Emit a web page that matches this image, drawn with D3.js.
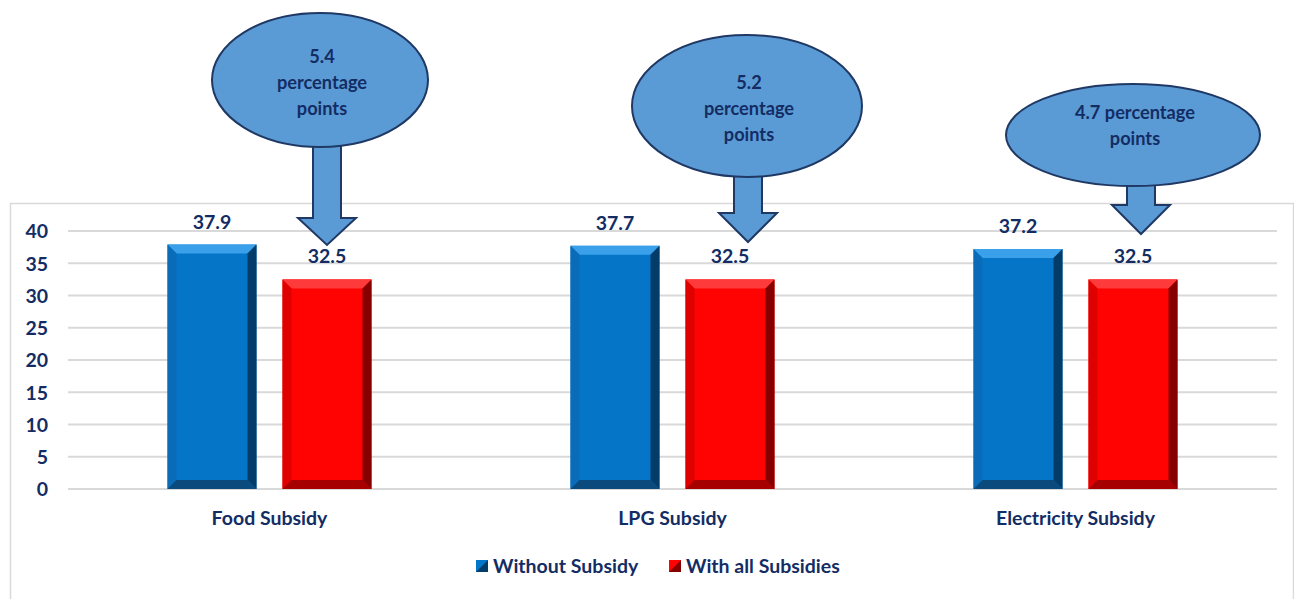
<!DOCTYPE html>
<html>
<head>
<meta charset="utf-8">
<script src="https://cdn.jsdelivr.net/npm/d3@7"></script>
<style>
  body { margin: 0; background: #fff; }
  text { font-family: Lato, "Open Sans", sans-serif; font-weight: bold; fill: #132d64; }
</style>
</head>
<body>
<div id="container"></div>
<script>
/* data */
var categories = ["Food Subsidy", "LPG Subsidy", "Electricity Subsidy"]
var seriesNames = ["Without Subsidy", "With all Subsidies"]
var withoutSubsidy = [37.9, 37.7, 37.2]
var withSubsidies = [32.5, 32.5, 32.5]
var calloutLines = [["5.4", "percentage", "points"],
                    ["5.2", "percentage", "points"],
                    ["4.7 percentage", "points"]]
var yTicks = [0, 5, 10, 15, 20, 25, 30, 35, 40]

/* callout shapes (layout only) */
var calloutLayout = [
  { dx: -7, cy: 80, rx: 108, ry: 67, arrowDx: 0, headY: 218, tipY: 245, textY: 57 },
  { dx: 17, cy: 106, rx: 115, ry: 71, arrowDx: 18, headY: 213, tipY: 242, textY: 83 },
  { dx: 0, cy: 135, rx: 127, ry: 51, arrowDx: 8, headY: 205, tipY: 234, textY: 113 }
]

var width = 1294, height = 599

var svg = d3.select("#container")
            .append("svg")
            .attr("width", width)
            .attr("height", height)

/* chart frame */
svg.append("path")
   .attr("d", "M10.5,599 L10.5,203.5 L1293.5,203.5 L1293.5,599")
   .attr("fill", "none")
   .attr("stroke", "#d9d9d9")
   .attr("stroke-width", 1.5)

var x0 = d3.scaleBand()
           .domain(categories)
           .range([68, 1277])
var x1 = d3.scaleBand()
           .domain(seriesNames)
           .range([99.5, 303.5])
           .paddingInner(0.226)
var y = d3.scaleLinear()
          .domain([0, 40])
          .range([489, 231])

/* gridlines */
svg.append("g").selectAll("line")
   .data(yTicks)
   .enter().append("line")
     .attr("x1", 68).attr("x2", 1277)
     .attr("y1", function(d) { return y(d) })
     .attr("y2", function(d) { return y(d) })
     .attr("stroke", "#d9d9d9")
     .attr("stroke-width", 2)

/* y axis labels */
var yAxis = d3.axisLeft(y).tickValues(yTicks).tickSize(0).tickPadding(0)
var ya = svg.append("g").attr("transform", "translate(48,0)").call(yAxis)
ya.select(".domain").remove()
ya.selectAll("text")
  .attr("font-size", 19.5)
  .attr("font-family", "Lato, sans-serif")
  .attr("dy", "0.35em")

/* bevelled bars */
var palettes = [
  { main: "#0575c8", top: "#3aa0ea", left: "#0a6cb8", right: "#033c69", bottom: "#0b4a7c" },
  { main: "#ff0202", top: "#ff3a3a", left: "#df0000", right: "#860000", bottom: "#a60000" }
]
var bevel = 9

var barData = []
categories.forEach(function(c, i) {
  barData.push({ cat: c, s: seriesNames[0], v: withoutSubsidy[i], p: palettes[0] })
  barData.push({ cat: c, s: seriesNames[1], v: withSubsidies[i], p: palettes[1] })
})

var bars = svg.append("g").selectAll(".bar")
   .data(barData)
   .enter().append("g")
     .attr("class", "bar")

bars.each(function(d) {
  var g = d3.select(this)
  var x = x0(d.cat) + x1(d.s), w = x1.bandwidth()
  var t = y(d.v), b = y(0), b2 = bevel
  g.append("rect").attr("x", x).attr("y", t).attr("width", w).attr("height", b - t).attr("fill", d.p.main)
  var poly = function(pts, fill) {
    g.append("polygon").attr("points", pts.map(function(p) { return p.join(",") }).join(" ")).attr("fill", fill)
  }
  poly([[x, t], [x + w, t], [x + w - b2, t + b2], [x + b2, t + b2]], d.p.top)
  poly([[x, t], [x + b2, t + b2], [x + b2, b - b2], [x, b]], d.p.left)
  poly([[x + w, t], [x + w, b], [x + w - b2, b - b2], [x + w - b2, t + b2]], d.p.right)
  poly([[x, b], [x + b2, b - b2], [x + w - b2, b - b2], [x + w, b]], d.p.bottom)
  g.append("text")
   .attr("x", x + w / 2)
   .attr("y", t - 16)
   .attr("text-anchor", "middle")
   .attr("font-size", 19.5)
   .text(d.v.toFixed(1))
})

/* category labels */
svg.append("g").selectAll("text")
   .data(categories)
   .enter().append("text")
     .attr("x", function(d) { return x0(d) + x0.bandwidth() / 2 })
     .attr("y", 525)
     .attr("text-anchor", "middle")
     .attr("font-size", 19.5)
     .text(function(d) { return d })

/* callouts */
var call = svg.append("g").selectAll(".callout")
   .data(calloutLayout)
   .enter().append("g")
     .attr("class", "callout")

call.each(function(d, i) {
  var g = d3.select(this)
  var redC = x0(categories[i]) + x1(seriesNames[1]) + x1.bandwidth() / 2
  var cx = redC + d.dx, ax = redC + d.arrowDx
  var shaftTop = d.cy + d.ry - 6
  g.append("path")
   .attr("d", "M" + (ax - 14) + "," + shaftTop + " L" + (ax - 14) + "," + d.headY +
              " L" + (ax - 29) + "," + d.headY + " L" + ax + "," + d.tipY +
              " L" + (ax + 29) + "," + d.headY + " L" + (ax + 14) + "," + d.headY +
              " L" + (ax + 14) + "," + shaftTop + " Z")
   .attr("fill", "#5b9bd5")
   .attr("stroke", "#1f3864")
   .attr("stroke-width", 2)
  g.append("ellipse")
   .attr("cx", cx).attr("cy", d.cy)
   .attr("rx", d.rx).attr("ry", d.ry)
   .attr("fill", "#5b9bd5")
   .attr("stroke", "#1f3864")
   .attr("stroke-width", 2)
  g.selectAll("text")
   .data(calloutLines[i])
   .enter().append("text")
     .attr("x", cx + 2)
     .attr("y", function(t, j) { return d.textY + j * 26 + 6 })
     .attr("text-anchor", "middle")
     .attr("font-size", 18.2)
     .text(function(t) { return t })
})

/* legend */
var legend = svg.append("g").selectAll(".legend")
   .data(seriesNames)
   .enter().append("g")
     .attr("class", "legend")
     .attr("transform", function(d, i) { return "translate(" + [476, 669][i] + ",560)" })

legend.each(function(d, i) {
  var g = d3.select(this), p = palettes[i]
  g.append("rect").attr("width", 12).attr("height", 12).attr("fill", p.right)
  g.append("polygon").attr("points", "0,0 12,0 0,12").attr("fill", p.main)
  g.append("text")
   .attr("x", 17).attr("y", 13)
   .attr("font-size", 19.5)
   .text(d)
})
</script>
</body>
</html>
